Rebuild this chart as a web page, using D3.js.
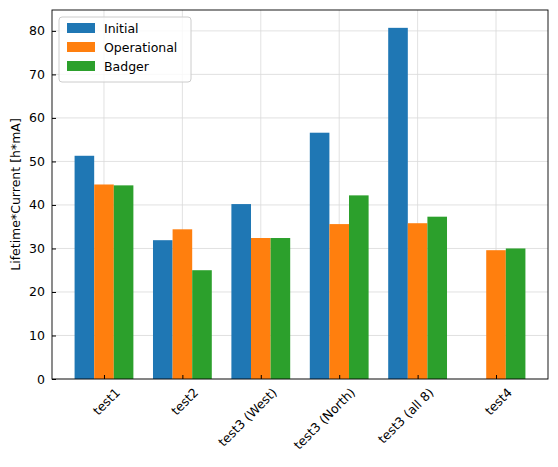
<!DOCTYPE html><html><head><script src="https://cdn.jsdelivr.net/npm/d3@7"></script>
<style>body{margin:0;background:#fff}text{font-family:"DejaVu Sans",sans-serif}</style></head><body>
<svg id="c" width="558" height="467"></svg>
<script>
const categories=["test1","test2","test3 (West)","test3 (North)","test3 (all 8)","test4"];
const initial=[51.3,31.9,40.2,56.6,80.7,null];
const operational=[44.7,34.4,32.4,35.6,35.8,29.6];
const badger=[44.5,25.0,32.4,42.2,37.3,30.0];
const seriesNames=["Initial","Operational","Badger"];
const colors=["#1f77b4","#ff7f0e","#2ca02c"];
const yTicks=[0,10,20,30,40,50,60,70,80];
const svg=d3.select("#c");
const L=52,R=548,T=10,B=379;
const x=d3.scaleLinear().domain([-0.663,5.663]).range([L,R]);
const y=d3.scaleLinear().domain([0,84.8]).range([B,T]);
const g=svg.append("g");
// grid
g.selectAll(".gy").data(yTicks).join("line").attr("x1",L).attr("x2",R).attr("y1",d=>y(d)).attr("y2",d=>y(d)).attr("stroke","#d9d9d9").attr("stroke-width",0.8);
g.selectAll(".gx").data(categories).join("line").attr("x1",(d,i)=>x(i)).attr("x2",(d,i)=>x(i)).attr("y1",T).attr("y2",B).attr("stroke","#d9d9d9").attr("stroke-width",0.8);
const all=[initial,operational,badger];
const w=0.25;
all.forEach((s,k)=>{
  g.selectAll(".b"+k).data(s.map((v,i)=>({v,i})).filter(d=>d.v!=null)).join("rect")
   .attr("x",d=>x(d.i+(k-1)*w-w/2)).attr("width",x(w)-x(0))
   .attr("y",d=>y(d.v)).attr("height",d=>B-y(d.v)).attr("fill",colors[k]);
});
// axes
const ya=d3.axisLeft(y).tickValues(yTicks).tickSizeInner(-4).tickSizeOuter(0).tickPadding(7);
svg.append("g").attr("transform",`translate(${L},0)`).call(ya).call(a=>{a.select(".domain").remove();a.selectAll("text").attr("font-size",12.5).attr("fill","#000").style("font-family","DejaVu Sans");});
const xa=d3.axisBottom(x).tickValues(d3.range(6)).tickFormat(i=>categories[i]).tickSizeInner(-4).tickSizeOuter(0).tickPadding(8);
svg.append("g").attr("transform",`translate(0,${B})`).call(xa).call(a=>{a.select(".domain").remove();a.selectAll("text").attr("font-size",12.5).attr("fill","#000").style("font-family","DejaVu Sans").attr("text-anchor","end").attr("dy","0.3em").attr("transform","translate(8,6) rotate(-45)");});
svg.append("rect").attr("x",L).attr("y",T).attr("width",R-L).attr("height",B-T).attr("fill","none").attr("stroke","#000").attr("stroke-width",0.9);
svg.append("text").attr("transform",`translate(20,${(T+B)/2}) rotate(-90)`).attr("text-anchor","middle").attr("font-size",12.5).text("Lifetime*Current [h*mA]");
// legend
const lg=svg.append("g").attr("transform","translate(59,17)");
lg.append("rect").attr("width",132).attr("height",65).attr("rx",3).attr("fill","#fff").attr("fill-opacity",0.8).attr("stroke","#ccc");
seriesNames.forEach((n,k)=>{
  lg.append("rect").attr("x",8).attr("y",6+k*19).attr("width",28).attr("height",10).attr("fill",colors[k]);
  lg.append("text").attr("x",45).attr("y",15.5+k*19).attr("font-size",12.5).text(n);
});
</script></body></html>
